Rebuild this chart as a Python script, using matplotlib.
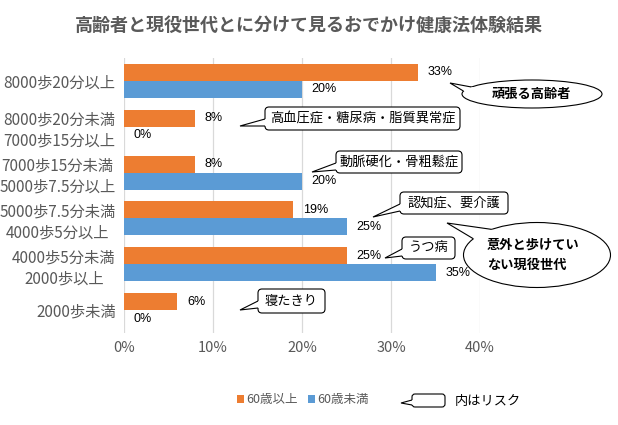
import numpy as np
import matplotlib
matplotlib.use("Agg")
import matplotlib.pyplot as plt
from matplotlib.patches import FancyBboxPatch, Ellipse, Polygon
from matplotlib.transforms import Affine2D

plt.rcParams['font.family'] = ['Noto Sans CJK JP', 'DejaVu Sans']

# data
categories = ["8000歩20分以上",
              "8000歩20分未満\n7000歩15分以上",
              "7000歩15分未満\n5000歩7.5分以上",
              "5000歩7.5分未満\n4000歩5分以上",
              "4000歩5分未満\n2000歩以上",
              "2000歩未満"]
over60 = [33, 8, 8, 19, 25, 6]
under60 = [20, 0, 20, 25, 35, 0]
series_names = ["60歳以上", "60歳未満"]
xticks = [0, 10, 20, 30, 40]

ORANGE = "#ED7D31"
BLUE = "#5B9BD5"
GRAY = "#595959"

fig = plt.figure(figsize=(6.18, 4.25), dpi=100)
ax = fig.add_axes([124 / 618, 1 - 333 / 425, 356 / 618, 275 / 425])

y = np.arange(len(categories))
h = 0.37
b1 = ax.barh(y - h / 2, over60, height=h, color=ORANGE, label=series_names[0], zorder=2)
b2 = ax.barh(y + h / 2, under60, height=h, color=BLUE, label=series_names[1], zorder=2)

for bars, vals in ((b1, over60), (b2, under60)):
    for bar, v in zip(bars, vals):
        ax.annotate(f"{v}%", (bar.get_width(), bar.get_y() + bar.get_height() / 2),
                    xytext=(7, 0), textcoords="offset points", ha="left", va="center",
                    fontsize=9, color="black", family=['Liberation Sans'])

ax.set_xlim(0, 40)
ax.set_ylim(len(categories) - 0.5, -0.5)
ax.set_xticks(xticks)
ax.set_xticklabels([f"{t}%" for t in xticks])
ax.set_yticks(y)
ax.set_yticklabels(categories, multialignment="center", linespacing=1.3)
ax.tick_params(axis="both", length=0, labelsize=10.5, labelcolor=GRAY)
ax.tick_params(axis="y", pad=6, labelsize=11)
ax.tick_params(axis="x", pad=6)
ax.grid(axis="x", color="#d9d9d9", lw=0.9, zorder=0)
ax.set_axisbelow(True)
for s in ax.spines.values():
    s.set_visible(False)

fig.text(309 / 618, 1 - 25 / 425, "高齢者と現役世代とに分けて見るおでかけ健康法体験結果",
         ha="center", va="center", fontsize=13, fontweight="bold", color=GRAY)

# pixel transform (x right, y down from top-left)
px = Affine2D().scale(1 / 100, -1 / 100).translate(0, 4.25) + fig.dpi_scale_trans


def tail(base1, tip, base2, inner):
    fig.add_artist(Polygon([base1, tip, base2, inner], closed=True, facecolor="white",
                           edgecolor="none", transform=px, zorder=11))
    fig.add_artist(Polygon([base1, tip, base2], closed=False, fill=False,
                           edgecolor="black", lw=0.8, transform=px, zorder=12))


def box_callout(x0, y0, x1, y1, tip, b1y, b2y, text, size=9.5):
    fig.add_artist(FancyBboxPatch((x0, y0), x1 - x0, y1 - y0,
                                  boxstyle="round,pad=0,rounding_size=4",
                                  facecolor="white", edgecolor="black", lw=0.8,
                                  transform=px, zorder=10))
    tail((x0, b1y), tip, (x0, b2y), ((x0 + x1) / 2, (y0 + y1) / 2))
    fig.text((x0 + x1) / 2 / 618, 1 - (y0 + y1) / 2 / 425, text, ha="center", va="center",
             fontsize=size, color="black", zorder=13)


def ellipse_callout(cx, cy, w, hh, tip, t1, t2, text, tx=None):
    fig.add_artist(Ellipse((cx, cy), w, hh, facecolor="white", edgecolor="black", lw=0.8,
                           transform=px, zorder=10))
    p = lambda t: (cx + w / 2 * np.cos(np.radians(t)), cy - hh / 2 * np.sin(np.radians(t)))
    tail(p(t1), tip, p(t2), (cx, cy))
    if tx is None:
        fig.text(cx / 618, 1 - cy / 425, text, ha="center", va="center",
                 fontsize=9.5, fontweight="bold", color="black", zorder=13)
    else:
        fig.text(tx / 618, 1 - cy / 425, text, ha="left", va="center", linespacing=1.6,
                 fontsize=9.5, fontweight="bold", color="black", zorder=13)


ellipse_callout(532, 94, 140, 28, (450, 83), 150, 168, "頑張る高齢者")
box_callout(265, 107, 460, 130, (240, 126), 119, 126, "高血圧症・糖尿病・脂質異常症")
box_callout(336, 151, 462, 173, (312, 172), 163, 170, "動脈硬化・骨粗鬆症")
box_callout(400, 192, 508, 214, (373, 217), 204, 211, "認知症、要介護")
ellipse_callout(537, 255, 147, 65, (447, 223), 128, 150, "意外と歩けてい\nない現役世代", tx=487)
box_callout(402, 237, 455, 259, (385, 258), 249, 256, "うつ病")
box_callout(258, 289, 325, 313, (240, 310), 301, 308, "寝たきり")

# legend
fig.legend(handles=[b1, b2], labels=series_names, loc="center",
           bbox_to_anchor=(303 / 618, 1 - 400 / 425), ncol=2, frameon=False,
           fontsize=9, labelcolor=GRAY, handlelength=0.55, handleheight=0.55,
           handletextpad=0.2, columnspacing=0.8)
fig.add_artist(FancyBboxPatch((412, 394), 33, 13, boxstyle="round,pad=0,rounding_size=3",
                              facecolor="white", edgecolor="black", lw=0.8,
                              transform=px, zorder=10))
tail((412, 400), (401, 403), (412, 405), (428, 400))
fig.text(455 / 618, 1 - 401 / 425, "内はリスク", ha="left", va="center", fontsize=9.5,
         color="black")

fig.savefig("out.png", dpi=100)
